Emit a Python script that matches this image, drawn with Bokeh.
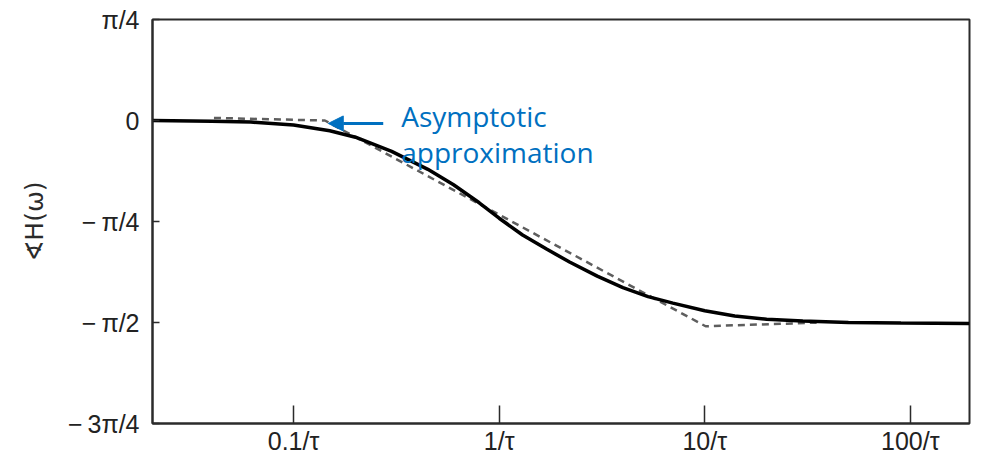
import math
from bokeh.plotting import figure
from bokeh.models import FixedTicker, Range1d, Label, Arrow, NormalHead
from bokeh.embed import file_html
from bokeh.resources import INLINE

PI = math.pi

# Exact phase curve, omega in units of 1/tau, phase in radians
omega = [0.0206, 0.04, 0.062, 0.1, 0.15, 0.2, 0.3, 0.45, 0.6, 0.8, 1.0, 1.3, 1.7,
         2.2, 3.0, 4.0, 5.3, 7.0, 10.0, 14.0, 20.0, 30.0, 50.0, 90.0, 194.0]
phase = [0.0, -0.005, -0.012, -0.035, -0.08, -0.13, -0.24, -0.38, -0.50, -0.64,
         -0.76, -0.89, -1.00, -1.10, -1.21, -1.30, -1.37, -1.42, -1.48, -1.52,
         -1.545, -1.56, -1.57, -1.575, -1.578]

# Asymptotic approximation (dashed)
asym_omega = [0.041, 0.142, 10.1, 35.0]
asym_phase = [0.02, 0.0, -1.60, -1.572]

# Axis ticks
x_ticks = [0.1, 1, 10, 100]
x_tick_labels = ["0.1/\u03c4", "1/\u03c4", "10/\u03c4", "100/\u03c4"]
y_ticks = [PI / 4, 0, -PI / 4, -PI / 2, -3 * PI / 4]
y_tick_labels = ["\u03c0/4", "0", "\u2212\u2009\u03c0/4", "\u2212\u2009\u03c0/2", "\u2212\u20093\u03c0/4"]

p = figure(width=973, height=457, x_axis_type="log",
           x_range=Range1d(0.0206, 194), y_range=Range1d(-3 * PI / 4, PI / 4),
           output_backend="svg", toolbar_location=None)
p.min_border_left = 152
p.min_border_right = 4
p.min_border_top = 19
p.min_border_bottom = 31
p.grid.visible = False
p.background_fill_color = "white"
p.border_fill_color = "white"
p.outline_line_color = "#2b2b2b"
p.outline_line_width = 2
p.outline_line_alpha = 1

p.xaxis.ticker = FixedTicker(ticks=x_ticks, minor_ticks=[])
p.xaxis.major_label_overrides = {t: l for t, l in zip(x_ticks, x_tick_labels)}
p.yaxis.ticker = FixedTicker(ticks=y_ticks, minor_ticks=[])
p.yaxis.major_label_overrides = {t: l for t, l in zip(y_ticks, y_tick_labels)}

for ax in (p.xaxis[0], p.yaxis[0]):
    ax.axis_line_color = "#2b2b2b"
    ax.axis_line_width = 2
    ax.major_tick_line_color = "#2b2b2b"
    ax.major_tick_line_width = 1.5
    ax.major_tick_out = 0
    ax.minor_tick_line_color = None
    ax.major_label_text_font = "Liberation Sans"
    ax.major_label_text_font_size = "25px"
    ax.major_label_text_color = "#222222"

p.xaxis.major_tick_in = 18
p.yaxis.major_tick_in = 7
p.xaxis.major_label_standoff = 3
p.yaxis.major_label_standoff = 13
p.yaxis.axis_label = "\u2222H(\u03c9)"
p.yaxis.axis_label_text_font = "DejaVu Sans"
p.yaxis.axis_label_text_font_style = "normal"
p.yaxis.axis_label_text_font_size = "25px"
p.yaxis.axis_label_text_color = "#2b2b2b"
p.yaxis.axis_label_standoff = 16

p.line(asym_omega, asym_phase, line_color="#5e5e5e", line_width=2.5, line_dash="7 5")
p.line(omega, phase, line_color="black", line_width=3.5)

blue = "#0070C0"
p.add_layout(Arrow(end=NormalHead(size=15, fill_color=blue, line_color=blue),
                   x_start=0.273, y_start=-0.023, x_end=0.1475, y_end=-0.023,
                   line_color=blue, line_width=3))
p.add_layout(Label(x=0.334, y=0.038, text="Asymptotic", text_font="Open Sans",
                   text_font_size="28px", text_color=blue, text_baseline="alphabetic"))
p.add_layout(Label(x=0.334, y=-0.246, text="approximation", text_font="Open Sans",
                   text_font_size="28px", text_color=blue, text_baseline="alphabetic"))

open("out.html", "w").write(file_html(p, INLINE))
